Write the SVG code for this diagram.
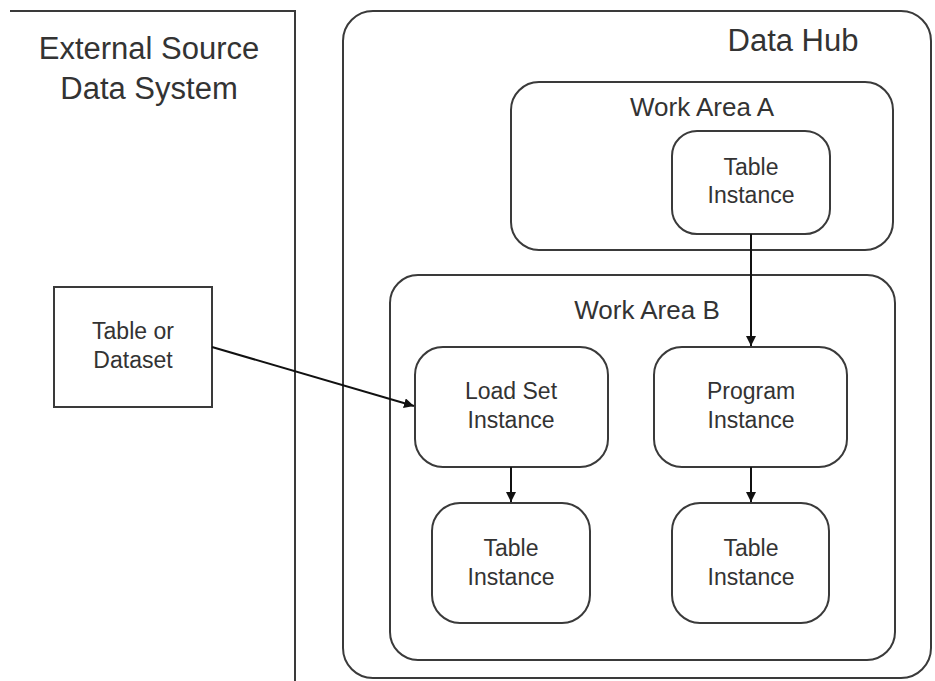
<svg xmlns="http://www.w3.org/2000/svg" width="935" height="681" viewBox="0 0 935 681">
<defs>
<style>
.box{fill:#fff;stroke:#3a3a3a;stroke-width:2}
.t{font-family:"Liberation Sans",Arial,sans-serif;fill:#333;text-anchor:middle}
.big{font-size:31px}
.mid{font-size:26px}
.sm{font-size:23px}
.c{stroke:#111;stroke-width:2;fill:none}
</style>
<marker id="ah" viewBox="0 0 10 10" refX="10" refY="5" markerWidth="5" markerHeight="5" orient="auto" markerUnits="strokeWidth">
<path d="M0,0 L10,5 L0,10 z" fill="#111"/>
</marker>
</defs>
<rect width="935" height="681" fill="#fff"/>
<g id="external">
<path class="box" d="M10,11 H295 V681" fill="none"/>
<text class="t big" x="149" y="59">External Source</text>
<text class="t big" x="149" y="99">Data System</text>
</g>
<g id="datahub">
<rect class="box" x="343" y="11" width="588" height="667" rx="30"/>
<text class="t big" x="793" y="51">Data Hub</text>
</g>
<g id="workareaA">
<rect class="box" x="511" y="82" width="382" height="168" rx="28"/>
<text class="t mid" x="702" y="116">Work Area A</text>
</g>
<g id="tableA">
<rect class="box" x="672" y="131" width="158" height="103" rx="25"/>
<text class="t sm" x="751" y="175">Table</text>
<text class="t sm" x="751" y="203">Instance</text>
</g>
<g id="workareaB">
<rect class="box" x="390" y="275" width="505" height="385" rx="28"/>
<text class="t mid" x="647" y="319">Work Area B</text>
</g>
<g id="loadset">
<rect class="box" x="415" y="347" width="193" height="120" rx="28"/>
<text class="t sm" x="511" y="399">Load Set</text>
<text class="t sm" x="511" y="428">Instance</text>
</g>
<g id="program">
<rect class="box" x="654" y="347" width="193" height="120" rx="28"/>
<text class="t sm" x="751" y="399">Program</text>
<text class="t sm" x="751" y="428">Instance</text>
</g>
<g id="tableBL">
<rect class="box" x="432" y="503" width="158" height="120" rx="28"/>
<text class="t sm" x="511" y="556">Table</text>
<text class="t sm" x="511" y="585">Instance</text>
</g>
<g id="tableBR">
<rect class="box" x="672" y="503" width="157" height="120" rx="28"/>
<text class="t sm" x="751" y="556">Table</text>
<text class="t sm" x="751" y="585">Instance</text>
</g>
<g id="dataset">
<rect class="box" x="54" y="287" width="158" height="120"/>
<text class="t sm" x="133" y="339">Table or</text>
<text class="t sm" x="133" y="368">Dataset</text>
</g>
<g id="connectors">
<line class="c" x1="212" y1="347" x2="414" y2="406" marker-end="url(#ah)"/>
<line class="c" x1="751" y1="234" x2="751" y2="346" marker-end="url(#ah)"/>
<line class="c" x1="511" y1="467" x2="511" y2="502" marker-end="url(#ah)"/>
<line class="c" x1="751" y1="467" x2="751" y2="502" marker-end="url(#ah)"/>
</g>
</svg>
